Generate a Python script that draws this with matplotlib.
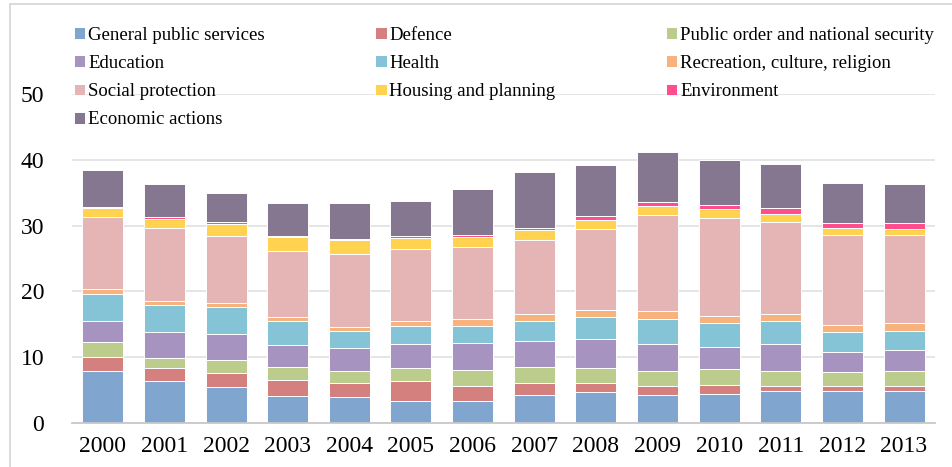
import numpy as np
import matplotlib
matplotlib.use("Agg")
import matplotlib.pyplot as plt
from matplotlib.patches import Rectangle

years = ["2000", "2001", "2002", "2003", "2004", "2005", "2006",
         "2007", "2008", "2009", "2010", "2011", "2012", "2013"]

categories = ["General public services", "Defence", "Public order and national security",
              "Education", "Health", "Recreation, culture, religion",
              "Social protection", "Housing and planning", "Environment",
              "Economic actions"]

general = [7.9, 6.45, 5.4, 4.1, 3.9, 3.35, 3.35, 4.3, 4.7, 4.2, 4.4, 4.85, 4.9, 4.85]
defence = [2.15, 1.85, 2.2, 2.5, 2.15, 3.0, 2.2, 1.75, 1.45, 1.45, 1.45, 0.8, 0.65, 0.8]
public_order = [2.3, 1.6, 2.0, 1.85, 1.9, 2.05, 2.5, 2.5, 2.2, 2.25, 2.4, 2.3, 2.25, 2.2]
education = [3.1, 3.95, 3.95, 3.45, 3.5, 3.55, 4.05, 3.9, 4.45, 4.15, 3.3, 4.0, 2.95, 3.2]
health = [4.2, 4.1, 4.15, 3.6, 2.55, 2.75, 2.7, 3.1, 3.25, 3.8, 3.6, 3.5, 3.15, 3.0]
recreation = [0.75, 0.6, 0.55, 0.65, 0.65, 0.75, 0.95, 1.05, 1.15, 1.1, 1.15, 1.05, 0.95, 1.1]
social = [10.85, 11.1, 10.2, 10.0, 11.05, 11.05, 11.0, 11.2, 12.35, 14.6, 14.85, 14.1, 13.65, 13.4]
housing = [1.35, 1.35, 1.8, 2.1, 2.1, 1.6, 1.5, 1.55, 1.3, 1.4, 1.3, 1.2, 1.1, 0.95]
environment = [0.3, 0.35, 0.25, 0.2, 0.15, 0.3, 0.35, 0.35, 0.55, 0.65, 0.75, 0.95, 0.8, 0.9]
economic = [5.55, 4.9, 4.4, 4.95, 5.55, 5.3, 6.95, 8.4, 7.85, 7.65, 6.8, 6.65, 6.15, 5.95]

series = [general, defence, public_order, education, health, recreation,
          social, housing, environment, economic]
colors = ["#80A6CF", "#D4807E", "#BBCC8C", "#A693C0", "#84C4D6",
          "#F8B27E", "#E5B5B6", "#FFD24F", "#FF4D8E", "#85778F"]

plt.rcParams["font.family"] = ["Liberation Serif", "DejaVu Serif"]

fig = plt.figure(figsize=(9.52, 4.67), dpi=100)
ax = fig.add_axes([0.0756, 0.0942, 0.9064, 0.7045])

x = np.arange(len(years))
bottom = np.zeros(len(years))
handles = []
for vals, col, name in zip(series, colors, categories):
    vals = np.array(vals)
    b = ax.bar(x, vals, width=0.665, bottom=bottom, color=col,
               edgecolor="white", linewidth=0.7, label=name, zorder=3)
    handles.append(b)
    bottom += vals

ax.set_xlim(-0.5, len(years) - 0.5)
ax.set_ylim(0, 50)
ax.set_yticks([0, 10, 20, 30, 40, 50])
ax.set_xticks(x)
ax.set_xticklabels(years)
ax.tick_params(axis="both", length=0, labelsize=17)
ax.tick_params(axis="y", pad=20)
ax.tick_params(axis="x", pad=9)
ax.grid(axis="y", color="#E3E3E3", linewidth=1.3, zorder=0)
for s in ["top", "right", "left"]:
    ax.spines[s].set_visible(False)
ax.spines["bottom"].set_color("#C8C8C8")
ax.spines["bottom"].set_linewidth(1.3)
ax.spines["bottom"].set_zorder(4)

# legend filled row by row across three columns
order = [0, 3, 6, 9, 1, 4, 7, 2, 5, 8]
leg = fig.legend([handles[i] for i in order], [categories[i] for i in order],
                 ncol=3, loc="upper left", bbox_to_anchor=(0.0777, 0.943),
                 frameon=False, fontsize=13.5, handlelength=0.6, handleheight=0.6,
                 handletextpad=0.15, columnspacing=5.9, labelspacing=0.6,
                 borderaxespad=0, borderpad=0)

fig.patches.append(Rectangle((10 / 952, -0.1), 1.2, 1.1 - 4 / 467,
                             transform=fig.transFigure, fill=False,
                             edgecolor="#D4D4D4", linewidth=1.2))

fig.savefig("out.png", dpi=100)
